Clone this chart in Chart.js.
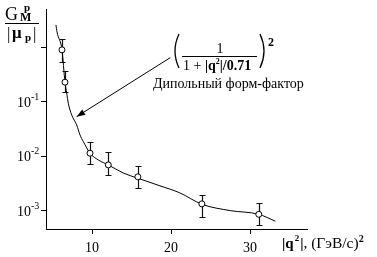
<!DOCTYPE html>
<html><head><meta charset="utf-8">
<script src="https://cdn.jsdelivr.net/npm/chart.js@4"></script>
<style>html,body{margin:0;padding:0;background:#fff}</style>
</head><body>
<canvas id="c" width="377" height="257"></canvas>
<script>
// measured points with error bars
const pointX = [6.2, 6.58, 9.75, 12.06, 15.8, 23.9, 31.1];
const pointY = [0.89, 0.227, 0.0113, 0.0069, 0.00417, 0.00133, 0.000855];
const errHigh = [1.41, 0.371, 0.0185, 0.0118, 0.0067, 0.00195, 0.00139];
const errLow = [0.535, 0.152, 0.0072, 0.00454, 0.00262, 0.00076, 0.000535];

// dipole curve
const curveX = [5.44, 5.57, 6.2, 6.58, 6.8, 7.0, 7.43, 8.06, 8.48, 8.9, 9.75, 10.8, 12.06, 13.96, 15.86, 18.6, 21.1, 23.9, 27.5, 31.05, 33.2];
const curveY = [2.55, 1.9, 0.89, 0.227, 0.143, 0.0935, 0.057, 0.0373, 0.0245, 0.0185, 0.0113, 0.0085, 0.0069, 0.0049, 0.0039, 0.00285, 0.00212, 0.00131, 0.001, 0.00086, 0.00064];

const xTicks = [10, 20, 30];
const yTicks = [0.001, 0.01, 0.1, 1];
const yTickExp = ['-3', '-2', '-1', ''];

// arrow of the annotation, in data units
const arrowTip = {x: 8.06, y: 0.053};
const arrowTail = {x: 19.9, y: 0.64};

const serif = 'Liberation Serif';

function toXY(xs, ys) {
    return xs.map((x, i) => ({x: x, y: ys[i]}));
}

const errorBars = {
    id: 'errorBars',
    beforeDatasetsDraw(chart) {
        const ctx = chart.ctx;
        const sx = chart.scales.x, sy = chart.scales.y;
        ctx.save();
        ctx.strokeStyle = '#111';
        ctx.lineWidth = 1.2;
        for (let i = 0; i < pointX.length; i++) {
            const px = Math.round(sx.getPixelForValue(pointX[i])) + 0.5;
            const top = Math.round(sy.getPixelForValue(errHigh[i])) + 0.5;
            const bot = Math.round(sy.getPixelForValue(errLow[i])) + 0.5;
            ctx.beginPath();
            ctx.moveTo(px, top); ctx.lineTo(px, bot);
            ctx.moveTo(px - 3, top); ctx.lineTo(px + 3, top);
            ctx.moveTo(px - 3, bot); ctx.lineTo(px + 3, bot);
            ctx.stroke();
        }
        ctx.restore();
    }
};

const labels = {
    id: 'labels',
    afterDraw(chart) {
        const ctx = chart.ctx;
        const sx = chart.scales.x, sy = chart.scales.y;
        ctx.save();
        ctx.fillStyle = '#000';
        ctx.strokeStyle = '#000';
        ctx.textBaseline = 'alphabetic';

        // y tick labels 10^n
        yTicks.forEach((v, i) => {
            if (!yTickExp[i]) return;
            const py = sy.getPixelForValue(v);
            ctx.font = '14px ' + serif;
            ctx.textAlign = 'right';
            ctx.fillText('10', 31, py + 5);
            ctx.font = '10px ' + serif;
            ctx.textAlign = 'left';
            ctx.fillText(yTickExp[i], 31, py - 2);
        });

        // x tick labels
        ctx.font = '14px ' + serif;
        ctx.textAlign = 'center';
        xTicks.forEach(v => ctx.fillText(String(v), sx.getPixelForValue(v), 252));

        // x title
        ctx.textAlign = 'left';
        let x = 282;
        ctx.font = 'bold 15px ' + serif;
        ctx.fillText('|q', x, 248); x += ctx.measureText('|q').width + 1;
        ctx.font = 'bold 9px ' + serif;
        ctx.fillText('2', x, 241); x += ctx.measureText('2').width + 1;
        ctx.font = 'bold 15px ' + serif;
        ctx.fillText('|', x, 248); x += ctx.measureText('|').width;
        ctx.font = '15.5px ' + serif;
        ctx.fillText(', (ГэВ/с)', x, 248); x += ctx.measureText(', (ГэВ/с)').width;
        ctx.font = 'bold 10px ' + serif;
        ctx.fillText('2', x, 242);

        // y title G_M^p / |mu_p|
        ctx.font = '18px ' + serif;
        ctx.fillText('G', 5, 20);
        ctx.font = 'bold 12px ' + serif;
        ctx.fillText('M', 20, 21);
        ctx.font = 'bold 11px ' + serif;
        ctx.fillText('p', 24, 11);
        ctx.lineWidth = 1;
        ctx.beginPath(); ctx.moveTo(5, 23.5); ctx.lineTo(39, 23.5); ctx.stroke();
        ctx.font = '17px ' + serif;
        ctx.fillText('|', 7, 39);
        ctx.font = 'bold 17px ' + serif;
        ctx.fillText('μ', 12, 38);
        ctx.font = 'bold 11px ' + serif;
        ctx.fillText('p', 25, 41);
        ctx.font = '17px ' + serif;
        ctx.fillText('|', 33, 39);

        // annotation arrow
        const tx = sx.getPixelForValue(arrowTip.x), ty = sy.getPixelForValue(arrowTip.y);
        const ax = sx.getPixelForValue(arrowTail.x), ay = sy.getPixelForValue(arrowTail.y);
        const ang = Math.atan2(ty - ay, tx - ax);
        ctx.lineWidth = 1;
        ctx.beginPath(); ctx.moveTo(ax, ay); ctx.lineTo(tx, ty); ctx.stroke();
        ctx.beginPath();
        ctx.moveTo(tx, ty);
        ctx.lineTo(tx - 9 * Math.cos(ang - 0.35), ty - 9 * Math.sin(ang - 0.35));
        ctx.lineTo(tx - 9 * Math.cos(ang + 0.35), ty - 9 * Math.sin(ang + 0.35));
        ctx.closePath(); ctx.fill();

        // formula (1 / (1 + |q^2|/0.71))^2
        ctx.lineWidth = 1.3;
        ctx.beginPath(); ctx.moveTo(179, 34); ctx.quadraticCurveTo(171, 51, 179, 68); ctx.stroke();
        ctx.beginPath(); ctx.moveTo(260, 34); ctx.quadraticCurveTo(268, 51, 260, 68); ctx.stroke();
        ctx.lineWidth = 1;
        ctx.beginPath(); ctx.moveTo(182, 56.5); ctx.lineTo(257, 56.5); ctx.stroke();
        ctx.font = '14px ' + serif;
        ctx.textAlign = 'center';
        ctx.fillText('1', 220, 53);
        ctx.textAlign = 'left';
        x = 183;
        ctx.fillText('1 + ', x, 70); x += ctx.measureText('1 + ').width;
        ctx.font = 'bold 14px ' + serif;
        ctx.fillText('|q', x, 70); x += ctx.measureText('|q').width;
        ctx.font = 'bold 8px ' + serif;
        ctx.fillText('2', x, 64); x += ctx.measureText('2').width;
        ctx.font = 'bold 14px ' + serif;
        ctx.fillText('|/0.71', x, 70);
        ctx.font = 'bold 12px ' + serif;
        ctx.fillText('2', 268, 46);

        ctx.font = '14px ' + serif;
        ctx.fillText('Дипольный форм-фактор', 153, 88);
        ctx.restore();
    }
};

new Chart(document.getElementById('c'), {
    type: 'scatter',
    data: {
        datasets: [{
            data: toXY(pointX, pointY),
            pointRadius: 3,
            pointBackgroundColor: '#fff',
            pointBorderColor: '#000',
            pointBorderWidth: 1,
            showLine: false
        }, {
            data: toXY(curveX, curveY),
            showLine: true,
            pointRadius: 0,
            borderColor: '#000',
            borderWidth: 1,
            cubicInterpolationMode: 'monotone'
        }]
    },
    options: {
        responsive: false,
        animation: false,
        events: [],
        layout: { padding: { left: 41, right: 70, top: 9, bottom: 23 } },
        plugins: { legend: { display: false }, tooltip: { enabled: false } },
        scales: {
            x: {
                type: 'linear',
                min: 4.18, max: 37.2,
                afterBuildTicks: s => { s.ticks = xTicks.map(v => ({value: v})); },
                afterFit: s => { s.height = 5; },
                ticks: { display: false },
                grid: { drawOnChartArea: false, drawTicks: true, tickLength: 5, color: '#000' },
                border: { color: '#000', width: 1 }
            },
            y: {
                type: 'logarithmic',
                min: 0.00046, max: 5,
                afterBuildTicks: s => { s.ticks = yTicks.map(v => ({value: v})); },
                afterFit: s => { s.width = 5; },
                ticks: { display: false },
                grid: { drawOnChartArea: false, drawTicks: true, tickLength: 5, color: '#000' },
                border: { color: '#000', width: 1 }
            }
        }
    },
    plugins: [errorBars, labels]
});
</script>
</body></html>
